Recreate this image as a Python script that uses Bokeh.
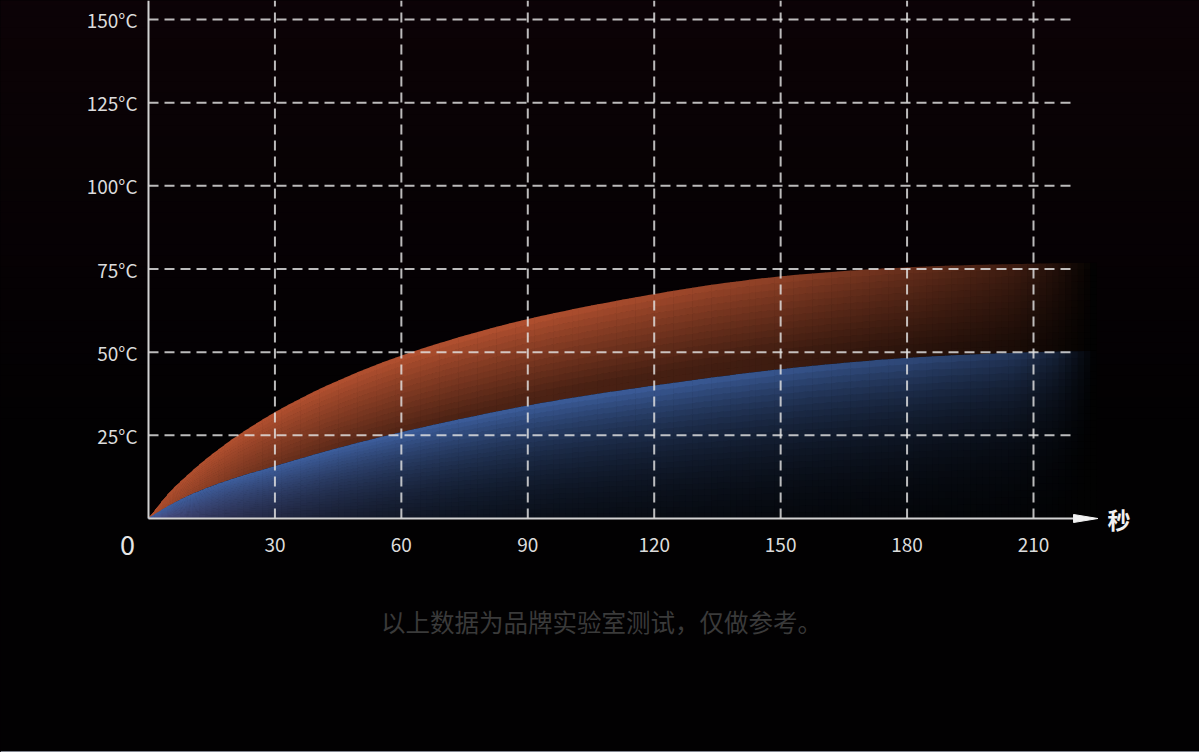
import numpy as np
from bokeh.plotting import figure
from bokeh.models import Range1d, ColumnDataSource, Label, Span
from bokeh.core.properties import value
from bokeh.embed import file_html
from bokeh.resources import INLINE

# ---- data ---------------------------------------------------------------
seconds = [0, 5, 10, 15, 20, 30, 40, 50, 60, 75, 90, 105, 120, 135, 150, 165, 180, 195, 210, 220, 225]
temp_high = [0, 8, 14, 19.3, 24, 32, 38.6, 44.2, 49, 55, 60, 64, 67.5, 70.5, 72.8, 74.4, 75.5, 76.2, 76.6, 76.8, 76.9]
temp_low = [0, 4, 7.2, 9.8, 12, 15.8, 19.5, 22.9, 26, 30.2, 34, 37.2, 40, 42.6, 44.9, 46.8, 48.3, 49.3, 50, 50.3, 50.4]

x_ticks = [30, 60, 90, 120, 150, 180, 210]
x_tick_labels = ["30", "60", "90", "120", "150", "180", "210"]
y_ticks = [25, 50, 75, 100, 125, 150]
y_tick_labels = ["25°C", "50°C", "75°C", "100°C", "125°C", "150°C"]
x_unit = "秒"
note = "以上数据为品牌实验室测试，仅做参考。"

# ---- page geometry --------------------------------------------------------
W, H = 1199, 752
ORIGIN_X, ORIGIN_Y = 148, 518          # pixel position of (0 s, 0 °C)
PX_PER_S = 885 / 210
PX_PER_DEG = 499 / 150
AXIS_END = 219.5                        # where grid / axis shaft stop (s)
ARROW_TIP = 225.3

FONT = "Noto Sans CJK SC"
BG = "#020102"

x_range = Range1d(-ORIGIN_X / PX_PER_S, (W - ORIGIN_X) / PX_PER_S)
y_range = Range1d(-(H - ORIGIN_Y) / PX_PER_DEG, ORIGIN_Y / PX_PER_DEG)

p = figure(width=W, height=H, x_range=x_range, y_range=y_range,
           output_backend="svg", toolbar_location=None,
           min_border=0, min_border_left=0, min_border_right=0,
           min_border_top=0, min_border_bottom=0)
p.axis.visible = False
p.grid.visible = False
p.outline_line_color = None
p.background_fill_color = BG
p.border_fill_color = BG
# dark host element so the canvas edges do not blend with a white page
p.styles = {"background-color": BG}

# ---- faint warm tint at the top of the background ------------------------
bg_steps = 40
y_top = y_range.end
y_fade = 30.0
edges = np.linspace(y_fade, y_top + 5, bg_steps + 1)
bg_cols = []
for i in range(bg_steps):
    t = (i + 0.5) / bg_steps
    r = int(round(2 + 10 * t)); g = int(round(1 + 1 * t)); b = int(round(2 + 4 * t))
    bg_cols.append("#%02x%02x%02x" % (r, g, b))
pad = 20
p.quad(left=[x_range.start - pad] * bg_steps, right=[x_range.end + pad] * bg_steps,
       bottom=list(edges[:-1]), top=list(edges[1:] + 0.4),
       fill_color=bg_cols, line_color=None)

# ---- gradient-filled bands ------------------------------------------------
xs = np.array(seconds, dtype=float)
hi = np.array(temp_high, dtype=float)
lo = np.array(temp_low, dtype=float)


def pchip(x, y, xq):
    """Monotone cubic interpolation (Fritsch-Carlson) for smooth band edges."""
    h = np.diff(x)
    d = np.diff(y) / h
    m = np.zeros_like(y)
    for k in range(1, len(x) - 1):
        if d[k - 1] * d[k] > 0:
            w1 = 2 * h[k] + h[k - 1]
            w2 = h[k] + 2 * h[k - 1]
            m[k] = (w1 + w2) / (w1 / d[k - 1] + w2 / d[k])
    m[0] = d[0]
    m[-1] = d[-1]
    out = np.empty_like(xq)
    idx = np.clip(np.searchsorted(x, xq) - 1, 0, len(x) - 2)
    for j, q in enumerate(xq):
        k = idx[j]
        t = (q - x[k]) / h[k]
        h00 = 2 * t**3 - 3 * t**2 + 1
        h10 = t**3 - 2 * t**2 + t
        h01 = -2 * t**3 + 3 * t**2
        h11 = t**3 - t**2
        out[j] = h00 * y[k] + h10 * h[k] * m[k] + h01 * y[k + 1] + h11 * h[k] * m[k + 1]
    return out


xf = np.linspace(xs[0], xs[-1], 151)
hi_f = pchip(xs, hi, xf)
lo_f = pchip(xs, lo, xf)
zero_f = np.zeros_like(xf)

ORANGE = np.array([180, 81, 48], dtype=float)
BLUE = np.array([62, 96, 160], dtype=float)
LAVENDER = np.array([92, 84, 142], dtype=float)


def hexcol(rgb):
    c = np.clip(np.round(rgb), 2, 255).astype(int)
    return "#%02x%02x%02x" % tuple(c)


def orange_color(x, t, thick):
    fade = np.interp(x, [0, 90, 120, 150, 180, 205, 215, 225],
                     [1, 1, 0.92, 0.8, 0.58, 0.36, 0.2, 0.0])
    d = (1 - t) * thick
    vert = 1 - 0.58 * min(d / 24.0, 1.0) ** 0.9
    return hexcol(ORANGE * fade * vert)


def blue_color(x, t, thick):
    fade = np.interp(x, [0, 120, 150, 180, 205, 215, 225],
                     [1, 0.97, 0.9, 0.78, 0.58, 0.36, 0.0])
    mix = (1 - t) * np.clip(1 - x / 80.0, 0, 1) * 0.8
    base = BLUE * (1 - mix) + LAVENDER * mix
    d = (1 - t) * thick
    vert = np.exp(-d / 19.0)
    return hexcol(base * fade * vert)


def band(lower, upper, layers, color_fn):
    """Split the area between two curves into small cells, each its own shade.
    Cells overlap their right and upper neighbours slightly to avoid seams."""
    ox = 0.6 / PX_PER_S
    oy = 0.6 / PX_PER_DEG
    pxs, pys, cols = [], [], []
    last = len(xf) - 2
    for i in range(len(xf) - 1):
        xa, xb = xf[i], xf[i + 1]
        xr = xb + (ox if i < last else 0)
        la, lb, ua, ub = lower[i], lower[i + 1], upper[i], upper[i + 1]
        xm = 0.5 * (xa + xb)
        thick = 0.5 * ((ua - la) + (ub - lb))
        for k in range(layers):
            t0, t1 = k / layers, (k + 1) / layers
            extra = oy if k < layers - 1 else 0
            pxs.append([xa, xr, xr, xa])
            pys.append([la + (ua - la) * t0, lb + (ub - lb) * t0,
                        lb + (ub - lb) * t1 + extra, la + (ua - la) * t1 + extra])
            cols.append(color_fn(xm, 0.5 * (t0 + t1), thick))
    return ColumnDataSource(dict(xs=pxs, ys=pys, c=cols))


orange_src = band(lo_f, hi_f, 14, orange_color)
blue_src = band(zero_f, lo_f, 24, blue_color)
p.patches("xs", "ys", source=orange_src, fill_color="c", line_color=None)
p.patches("xs", "ys", source=blue_src, fill_color="c", line_color=None)

# ---- dashed grid ------------------------------------------------------------
GRID = "#e4e4e4"
p.segment(x0=x_ticks, y0=[0] * len(x_ticks), x1=x_ticks, y1=[y_top] * len(x_ticks),
          line_color=GRID, line_alpha=0.82, line_width=2, line_dash="10 6")
p.segment(x0=[0] * len(y_ticks), y0=y_ticks, x1=[AXIS_END] * len(y_ticks), y1=y_ticks,
          line_color=GRID, line_alpha=0.82, line_width=2, line_dash="10 6")

# ---- axes -------------------------------------------------------------------
AXIS = "#d2d2d2"
p.segment(x0=[0], y0=[0], x1=[0], y1=[y_top], line_color=AXIS, line_width=2)
p.segment(x0=[0], y0=[0], x1=[AXIS_END + 1], y1=[0], line_color=AXIS, line_width=2)
head_half = 4 / PX_PER_DEG
p.patch(x=[AXIS_END, ARROW_TIP, AXIS_END], y=[head_half, 0, -head_half],
        fill_color="#f2f2f2", line_color="#f2f2f2", line_width=1)

# ---- tick labels ------------------------------------------------------------
p.text(x=[0] * len(y_ticks), y=y_ticks, text=y_tick_labels,
       x_offset=-11, text_align="right", text_baseline="middle",
       text_font=value(FONT), text_font_size="19px", text_color="#dcdcdc")
p.text(x=x_ticks, y=[0] * len(x_ticks), text=x_tick_labels,
       y_offset=26, text_align="center", text_baseline="middle",
       text_font=value(FONT), text_font_size="19px", text_color="#dcdcdc")
p.text(x=[0], y=[0], text=["0"], x_offset=-21, y_offset=26,
       text_align="center", text_baseline="middle",
       text_font=value(FONT), text_font_size="27px", text_color="#e6e6e6")
p.text(x=[ARROW_TIP], y=[0], text=[x_unit], x_offset=21, y_offset=0,
       text_align="center", text_baseline="middle",
       text_font=value(FONT), text_font_size="23px", text_font_style="bold",
       text_color="#f0f0f0")

# ---- footnote ---------------------------------------------------------------
p.add_layout(Label(x=601, y=H - 621, x_units="screen", y_units="screen",
                   text=note, text_align="center", text_baseline="middle",
                   text_font=FONT, text_font_size="24.5px", text_color="#3a3a3a"))

# thin light rule along the bottom edge
p.add_layout(Span(location=y_range.start + 0.5 / PX_PER_DEG, dimension="width",
                  line_color="#80848f", line_width=2))

open("out.html", "w").write(file_html(p, INLINE))
